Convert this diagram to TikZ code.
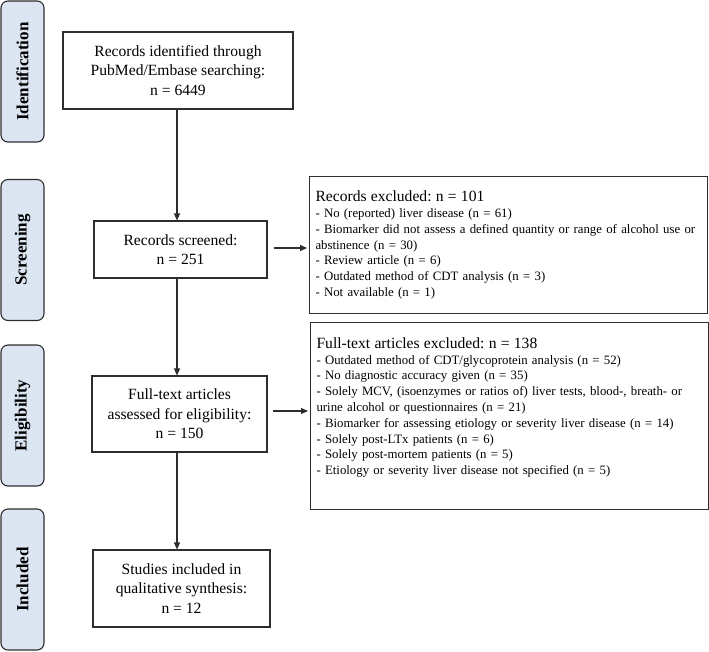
\documentclass[tikz,border=0pt]{standalone}
\usepackage{fontspec}
\setmainfont{Liberation Serif}
\usetikzlibrary{arrows.meta, positioning}
\definecolor{phasefill}{RGB}{220, 230, 242}
\definecolor{lineclr}{RGB}{45, 45, 45}
\frenchspacing

\begin{document}
\begin{tikzpicture}[x=1pt, y=-1pt,
  phase/.style={draw=lineclr, fill=phasefill, line width=1.1pt, rounded corners=7pt,
    rotate=90, minimum width=141pt, minimum height=43pt, inner sep=0pt,
    font=\fontsize{17}{19}\selectfont\bfseries},
  flowbox/.style={draw=lineclr, line width=1.1pt, align=center, inner sep=0pt,
    font=\fontsize{15.6}{19.5}\selectfont},
  exclbox/.style={draw=lineclr, line width=1.1pt, anchor=north west, align=left,
    text width=386pt, inner xsep=6pt, inner ysep=9pt,
    font=\fontsize{12.8}{15.8}\selectfont},
  flow/.style={draw=lineclr, line width=1.1pt, -{Triangle[length=7pt, width=6pt]}}]
  \useasboundingbox (0, 0) rectangle (709, 651);

  % phases on the left
  \node[phase] (idphase) at (22.5, 71.5) {Identification};
  \node[phase] (scphase) at (22.5, 250) {Screening};
  \node[phase] (elphase) at (22.5, 415.5) {Eligibility};
  \node[phase] (inphase) at (22.5, 579.5) {Included};

  % main flow
  \node[flowbox, minimum width=230pt, minimum height=77pt] (found) at (178, 70.5)
    {Records identified through\\PubMed/Embase searching:\\n = 6449};
  \node[flowbox, minimum width=173pt, minimum height=57pt] (screened) at (180.5, 249.5)
    {Records screened:\\n = 251};
  \node[flowbox, minimum width=175pt, minimum height=76pt] (assessed) at (179.5, 414)
    {Full-text articles\\assessed for eligibility:\\n = 150};
  \node[flowbox, minimum width=177pt, minimum height=77pt] (included) at (181.5, 588.5)
    {Studies included in\\qualitative synthesis:\\n = 12};

  % exclusions
  \node[exclbox, minimum height=137pt] (recexcl) at (309, 176)
    {{\fontsize{15.6}{16}\selectfont Records excluded: n = 101}\\
     - No (reported) liver disease (n = 61)\\
     - Biomarker did not assess a defined quantity or range of alcohol use or\\
     abstinence (n = 30)\\
     - Review article (n = 6)\\
     - Outdated method of CDT analysis (n = 3)\\
     - Not available (n = 1)};
  \node[exclbox, inner ysep=15pt] (ftexcl) at (310, 322)
    {{\fontsize{15.6}{16}\selectfont Full-text articles excluded: n = 138}\\
     - Outdated method of CDT/glycoprotein analysis (n = 52)\\
     - No diagnostic accuracy given (n = 35)\\
     - Solely MCV, (isoenzymes or ratios of) liver tests, blood-, breath- or\\
     urine alcohol or questionnaires (n = 21)\\
     - Biomarker for assessing etiology or severity liver disease (n = 14)\\
     - Solely post-LTx patients (n = 6)\\
     - Solely post-mortem patients (n = 5)\\
     - Etiology or severity liver disease not specified (n = 5)\rule[-20pt]{0pt}{0pt}};

  % arrows
  \draw[flow] (found.south -| 177, 0) -- (177, 0 |- screened.north);
  \draw[flow] (screened.south -| 177, 0) -- (177, 0 |- assessed.north);
  \draw[flow] (assessed.south -| 177, 0) -- (177, 0 |- included.north);
  \draw[flow] ([xshift=6pt]screened.east |- 0, 248) -- ([xshift=-2pt]recexcl.west |- 0, 248);
  \draw[flow] ([xshift=5pt]assessed.east |- 0, 411) -- ([xshift=-2pt]ftexcl.west |- 0, 411);
\end{tikzpicture}
\end{document}
